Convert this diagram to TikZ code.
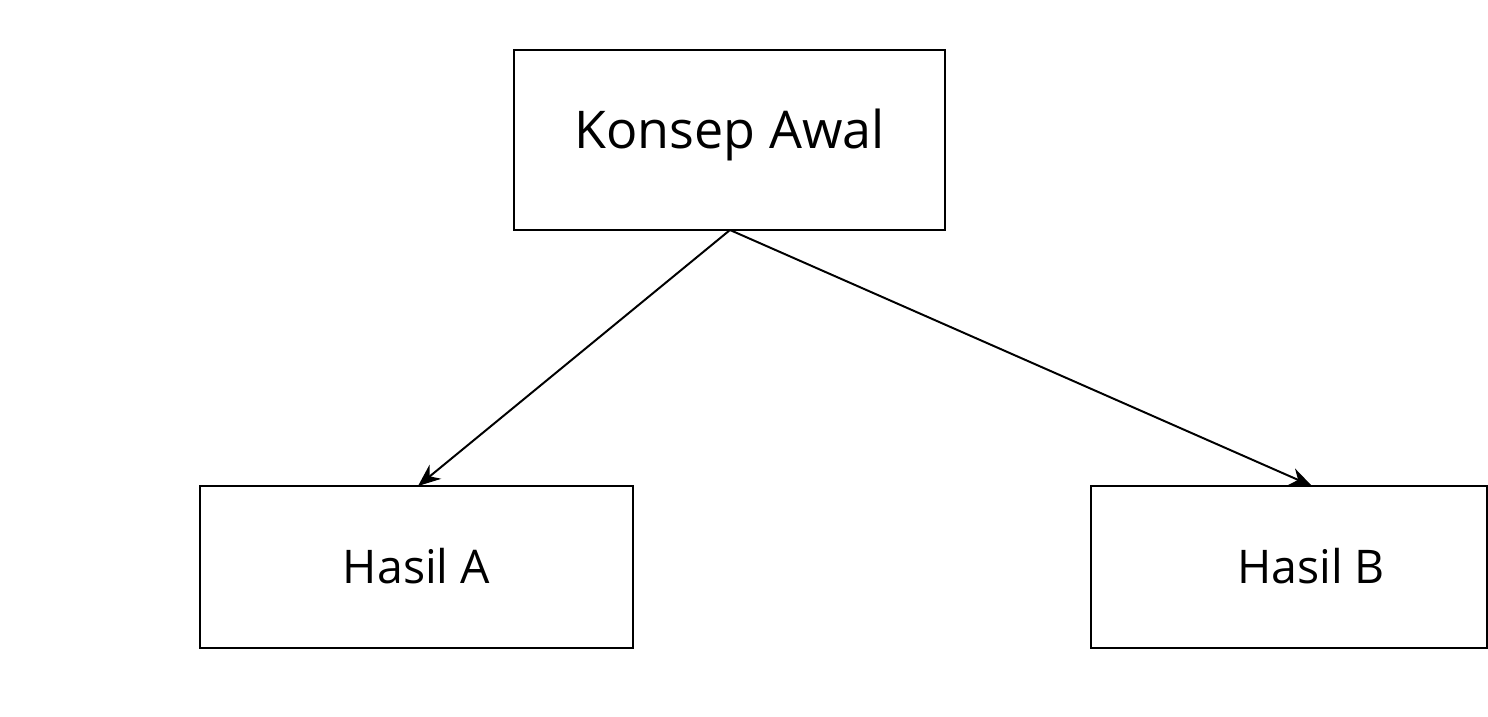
\documentclass[tikz,border=0pt]{standalone}
\usepackage{fontspec}
\setmainfont{Open Sans}
\usetikzlibrary{arrows.meta}
\begin{document}
\begin{tikzpicture}[x=0.025cm,y=-0.025cm,
  box/.style={draw,line width=1.3pt,inner sep=0pt},
  conn/.style={draw,line width=1.4pt,-{Stealth[length=16pt,width=13pt]}}]
\useasboundingbox[fill=white] (0,0) rectangle (1488,717);
\draw[box] (514,50) rectangle (945,230);
\node (k) at (729.5,135) {\fontsize{37}{44}\selectfont Konsep Awal};
\draw[box] (200,486) rectangle (633,648);
\node (a) at (416.5,566) {\fontsize{33}{40}\selectfont Hasil A};
\draw[box] (1091,486) rectangle (1487,648);
\node (b) at (1311,566) {\fontsize{33}{40}\selectfont Hasil B};
\coordinate (kt) at (730,230);
\coordinate (at) at (418,486);
\coordinate (bt) at (1312,486);
\draw[conn] (kt) -- (at);
\draw[conn] (kt) -- (bt);
\end{tikzpicture}
\end{document}
